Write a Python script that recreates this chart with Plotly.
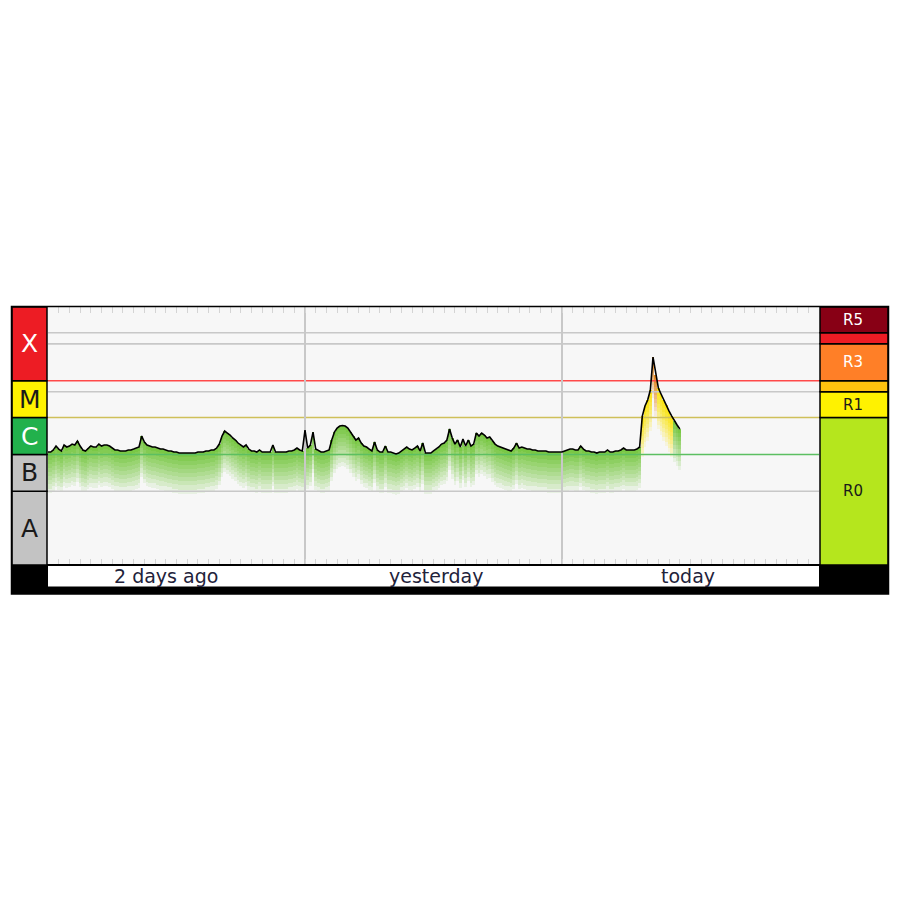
import math
import plotly.graph_objects as go

# ---------------- data ----------------
# GOES X-ray flux, in units of 1e-6 W/m^2 (i.e. C-class units), 15-minute samples
flux_uW = [
    1.16, 1.16, 1.32, 1.69, 1.40, 1.24, 1.80, 1.59, 1.69, 1.91,
    1.80, 2.31, 1.69, 1.32, 1.24, 1.49, 1.69, 1.59, 1.59, 1.91,
    1.69, 1.80, 1.80, 1.69, 1.49, 1.32, 1.32, 1.24, 1.24, 1.24,
    1.32, 1.32, 1.40, 1.49, 1.59, 3.16, 2.17, 1.80, 1.69, 1.59,
    1.59, 1.49, 1.40, 1.40, 1.32, 1.24, 1.24, 1.16, 1.16, 1.09,
    1.09, 1.09, 1.09, 1.09, 1.09, 1.09, 1.16, 1.16, 1.16, 1.24,
    1.24, 1.32, 1.32, 1.49, 1.91, 3.16, 4.31, 3.81, 3.36, 2.79,
    2.46, 2.04, 1.80, 1.59, 1.80, 1.40, 1.24, 1.24, 1.16, 1.32,
    1.16, 1.16, 1.16, 1.16, 1.80, 1.16, 1.16, 1.16, 1.16, 1.16,
    1.24, 1.24, 1.32, 1.49, 1.32, 1.24, 4.59, 1.49, 1.80, 4.05,
    1.40, 1.24, 1.16, 1.16, 1.24, 1.32, 2.46, 4.05, 5.20, 5.90,
    6.10, 5.90, 5.20, 4.05, 3.16, 2.46, 2.79, 2.04, 1.69, 1.59,
    1.40, 1.24, 2.17, 1.32, 1.16, 1.16, 1.69, 1.16, 1.16, 1.09,
    1.03, 1.09, 1.24, 1.40, 1.59, 1.40, 1.32, 1.49, 1.69, 1.24,
    2.04, 1.09, 1.09, 1.09, 1.24, 1.40, 1.59, 1.91, 2.04, 2.46,
    4.89, 2.79, 1.91, 2.46, 1.59, 2.62, 1.69, 2.46, 1.69, 1.91,
    3.81, 3.16, 3.81, 3.36, 2.79, 2.96, 2.31, 1.91, 1.69, 1.59,
    1.49, 1.40, 1.32, 1.24, 1.49, 2.04, 1.49, 1.59, 1.49, 1.40,
    1.40, 1.32, 1.32, 1.24, 1.24, 1.24, 1.24, 1.16, 1.16, 1.16,
    1.16, 1.16, 1.16, 1.24, 1.32, 1.40, 1.40, 1.32, 1.32, 1.69,
    1.40, 1.24, 1.24, 1.16, 1.16, 1.09, 1.16, 1.16, 1.16, 1.32,
    1.16, 1.16, 1.24, 1.24, 1.32, 1.49, 1.32, 1.32, 1.32, 1.32,
    1.40, 1.59, 11.0, 20.6, 29.9, 55.9, 439.0, 143.0, 63.0, 43.5,
    29.9, 21.9, 15.0, 11.0, 8.05, 6.30, 4.89,
]
flux_unit = 1e-6          # W/m^2 per list unit
sample_step_h = 0.25      # hours between samples
window_h = 72             # 3-day window

day_labels = ["2 days ago", "yesterday", "today"]
day_label_pos_h = [11.0, 36.2, 59.8]

class_labels = ["A", "B", "C", "M", "X"]
class_edges = [1e-9, 1e-7, 1e-6, 1e-5, 1e-4, 1e-2]
r_labels = ["R0", "R1", "R2", "R3", "R4", "R5"]
r_edges = [1e-9, 1e-5, 5e-5, 1e-4, 1e-3, 2e-3, 1e-2]

# ---------------- styling ----------------
class_fill = ["#c3c3c3", "#c3c3c3", "#22b14c", "#fff200", "#ed1c24"]
class_text = ["#1a1a1a", "#1a1a1a", "#ffffff", "#1a1a1a", "#ffffff"]
r_fill = ["#b5e61d", "#fff200", "#ffc20e", "#ff7f27", "#ed1c24", "#880015"]
r_text = ["#1a1a1a", "#1a1a1a", None, "#ffffff", None, "#ffffff"]

W, H = 900, 900
OFF = 8                                # page (body) offset of the figure
PL, PR, PT, PB = 48, 819, 307, 565      # plot area in screen pixels


def px(x):
    return (x - PL) / (PR - PL)


def py(y):
    return (PB - y) / (PB - PT)


hours = [i * sample_step_h for i in range(len(flux_uW))]
logf = [math.log10(v * flux_unit) for v in flux_uW]


def level_rgb(v):
    f = v * flux_unit
    if f >= 1e-4:
        return (226, 128, 18)
    if f >= 1e-5:
        return (250, 226, 0)
    return (112, 196, 56)


fig = go.Figure()

# gradient "shadow" below the curve, as stacked translucent bands
n_bands = 10
band_dec = 0.11
for k in range(n_bands):
    t = (k + 0.5) / n_bands
    a = 0.97 * (1 - t) ** 0.75
    cols = ["rgba(%d,%d,%d,%.3f)" % (*level_rgb(v), a) for v in flux_uW]
    fig.add_trace(go.Bar(
        x=hours,
        y=[band_dec] * len(hours),
        base=[lv - (k + 1) * band_dec for lv in logf],
        width=sample_step_h,
        marker=dict(color=cols, line=dict(width=0)),
        hoverinfo="skip",
    ))

# reference lines
ref_lines = [
    (math.log10(2e-3), "#c8c8c8"),
    (math.log10(1e-3), "#c8c8c8"),
    (math.log10(1e-4), "#ff4a4a"),
    (math.log10(5e-5), "#c8c8c8"),
    (math.log10(1e-5), "#cfc05a"),
    (math.log10(1e-6), "#5cbf62"),
    (math.log10(1e-7), "#c8c8c8"),
]
for yv, c in ref_lines:
    fig.add_trace(go.Scatter(x=[0, window_h], y=[yv, yv], mode="lines",
                             line=dict(color=c, width=1.6), hoverinfo="skip"))
for xv in [24, 48]:
    fig.add_trace(go.Scatter(x=[xv, xv], y=[-9, -2], mode="lines",
                             line=dict(color="#c8c8c8", width=2), hoverinfo="skip"))

# flux curve
fig.add_trace(go.Scatter(x=hours, y=logf, mode="lines",
                         line=dict(color="#000000", width=1.6), hoverinfo="skip"))

shapes = []
# bottom black band and white label strip
shapes.append(dict(type="rect", xref="paper", yref="paper",
                   x0=px(11), x1=px(889), y0=py(594), y1=py(564),
                   fillcolor="#000000", line=dict(width=0), layer="above"))
shapes.append(dict(type="rect", xref="paper", yref="paper",
                   x0=px(48), x1=px(819), y0=py(586.5), y1=py(566),
                   fillcolor="#ffffff", line=dict(width=0), layer="above"))
# left class column
for lab, lo, hi, fc in zip(class_labels, class_edges[:-1], class_edges[1:], class_fill):
    shapes.append(dict(type="rect", xref="paper", yref="y",
                       x0=px(12), x1=px(47), y0=math.log10(lo), y1=math.log10(hi),
                       fillcolor=fc, line=dict(color="#000000", width=1.5), layer="above"))
# right R column
for lab, lo, hi, fc in zip(r_labels, r_edges[:-1], r_edges[1:], r_fill):
    shapes.append(dict(type="rect", xref="paper", yref="y",
                       x0=px(820), x1=px(888), y0=math.log10(lo), y1=math.log10(hi),
                       fillcolor=fc, line=dict(color="#000000", width=1.5), layer="above"))
# outer frame
shapes.append(dict(type="rect", xref="paper", yref="paper",
                   x0=px(11.5), x1=px(888.5), y0=py(594), y1=py(306.5),
                   fillcolor="rgba(0,0,0,0)", line=dict(color="#000000", width=1.5),
                   layer="above"))

annotations = []
for lab, lo, hi, tc in zip(class_labels, class_edges[:-1], class_edges[1:], class_text):
    annotations.append(dict(xref="paper", yref="y", x=px(29.5),
                            y=(math.log10(lo) + math.log10(hi)) / 2,
                            text=lab, showarrow=False,
                            font=dict(family="DejaVu Sans", size=25, color=tc),
                            xanchor="center", yanchor="middle"))
for lab, lo, hi, tc in zip(r_labels, r_edges[:-1], r_edges[1:], r_text):
    if tc is None:
        continue
    annotations.append(dict(xref="paper", yref="y", x=px(853),
                            y=(math.log10(lo) + math.log10(hi)) / 2,
                            text=lab, showarrow=False,
                            font=dict(family="DejaVu Sans", size=15, color=tc),
                            xanchor="center", yanchor="middle"))
for lab, hx in zip(day_labels, day_label_pos_h):
    annotations.append(dict(xref="x", yref="paper", x=hx, y=py(576),
                            text=lab, showarrow=False,
                            font=dict(family="DejaVu Sans", size=19, color="#22223a"),
                            xanchor="center", yanchor="middle"))

fig.update_layout(
    width=W, height=H, autosize=False,
    margin=dict(l=PL - OFF, r=W - PR + OFF, t=PT - OFF, b=H - PB + OFF, pad=0),
    paper_bgcolor="#ffffff", plot_bgcolor="#f7f7f7",
    showlegend=False, barmode="overlay", bargap=0,
    shapes=shapes, annotations=annotations,
    xaxis=dict(range=[0, window_h], showgrid=False, zeroline=False,
               showticklabels=False, ticks="inside", tick0=0, dtick=1,
               ticklen=6, tickwidth=1, tickcolor="#d4d4d4",
               showline=True, linecolor="#a8a8a8", linewidth=1, mirror="ticks"),
    yaxis=dict(range=[-9, -2], showgrid=False, zeroline=False,
               showticklabels=False, ticks="", showline=False),
)

fig.write_html("out.html")
